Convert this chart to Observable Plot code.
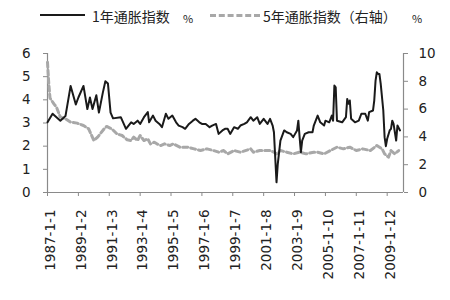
<!DOCTYPE html>
<html>
<head>
<meta charset="utf-8">
<script src="https://cdn.jsdelivr.net/npm/d3@7"></script>
<script src="https://cdn.jsdelivr.net/npm/@observablehq/plot@0.6"></script>
<style>
  html, body { margin: 0; padding: 0; background: #fff; }
  #wrap { width: 450px; height: 300px; position: relative; overflow: hidden; }
  #legend { position: relative; height: 30px; width: 450px; font-family: "Noto Sans CJK SC", sans-serif; font-size: 14px; color: #222; }
  #legend .sw { position: absolute; top: 14px; height: 0; }
  #legend .tx { position: absolute; top: 7px; line-height: 18px; white-space: nowrap; }
  svg { display: block; }
</style>
</head>
<body>
<div id="wrap">
  <div id="legend"></div>
  <div id="chart"></div>
</div>
<script>
// ---------- data ----------
const seriesNames = ["1年通胀指数", "5年通胀指数（右轴）"];
const unitLabel = "%";

const tickLabels = ["1987-1-1", "1989-1-2", "1991-1-3", "1993-1-4", "1995-1-5", "1997-1-6",
  "1999-1-7", "2001-1-8", "2003-1-9", "2005-1-10", "2007-1-11", "2009-1-12"];
const leftTicks = [0, 1, 2, 3, 4, 5, 6];
const rightTicks = [0, 2, 4, 6, 8, 10];

const oneYearDates = ["1987-01","1987-05","1987-11","1988-03","1988-07","1988-11","1989-01","1989-05","1989-08","1989-10","1989-12",
  "1990-03","1990-05","1990-08","1990-10","1990-12","1991-02","1991-04","1991-10","1992-02","1992-06","1992-08","1992-11",
  "1993-01","1993-04","1993-07","1993-08","1993-11","1994-01","1994-04","1994-06","1994-09","1994-11","1995-02","1995-05",
  "1995-07","1995-10","1995-12","1996-03","1996-06","1996-08","1996-11","1997-01","1997-04","1997-07","1997-09","1997-12",
  "1998-02","1998-05","1998-07","1998-09","1998-11","1999-02","1999-05","1999-07","1999-10","1999-12","2000-03","2000-05",
  "2000-08","2000-10","2001-01","2001-04","2001-06","2001-08","2001-09","2001-10","2001-11","2001-12","2002-02","2002-05",
  "2002-07","2002-10","2002-12","2003-03","2003-04","2003-05","2003-06","2003-07","2003-09","2003-12","2004-03","2004-04",
  "2004-07","2004-09","2004-12","2005-01","2005-04","2005-06","2005-07","2005-08","2005-09","2005-10","2006-02","2006-05",
  "2006-06","2006-07","2006-08","2006-09","2006-12","2007-03","2007-05","2007-08","2007-10","2007-11","2008-02","2008-03",
  "2008-04","2008-05","2008-06","2008-07","2008-08","2008-10","2008-11","2008-12","2009-01","2009-03","2009-04","2009-05",
  "2009-06","2009-08","2009-09","2009-11"];
const oneYearValues = [3.03,3.4,3.1,3.3,4.6,3.8,4.1,4.6,3.6,4.1,3.6,
  4.2,3.45,4.3,4.8,4.7,3.45,3.2,3.25,2.75,3.03,2.96,3.1,
  2.96,3.25,3.47,3.03,3.32,3.1,2.96,2.82,3.4,3.18,3.32,3.03,
  2.89,2.82,2.75,2.96,3.1,3.18,3.03,2.96,2.96,2.82,2.89,2.96,
  2.53,2.68,2.75,2.75,2.53,2.82,2.75,2.89,2.96,3.03,3.25,3.1,
  3.25,2.96,3.18,2.96,3.18,2.89,2.6,1.52,0.44,1.24,2.24,2.68,
  2.6,2.53,2.39,2.68,3.1,2.39,1.74,2.24,2.53,2.6,2.6,2.89,
  3.32,3.03,2.89,3.1,3.03,3.32,3.1,4.62,4.54,3.1,3.03,3.25,
  4.04,3.83,3.97,3.18,3.03,3.1,3.4,3.4,3.1,3.47,3.54,3.97,
  4.83,5.19,5.12,5.12,4.69,3.54,2.39,2.0,2.32,2.68,2.75,3.1,
  2.96,2.24,2.89,2.68];

const fiveYearDates = ["1987-01","1987-02","1987-03","1987-06","1987-08","1987-11","1988-03","1988-07","1988-12","1989-05","1989-09",
  "1990-01","1990-04","1990-06","1990-09","1990-11","1991-03","1991-07","1991-11","1992-03","1992-06","1992-08","1992-11",
  "1993-01","1993-04","1993-07","1993-09","1993-12","1994-02","1994-05","1994-08","1994-12","1995-03","1995-08","1996-02",
  "1996-07","1996-12","1997-05","1997-10","1998-02","1998-06","1998-09","1999-02","1999-07","2000-03","2000-05","2000-10",
  "2001-06","2001-09","2001-11","2002-02","2002-07","2002-12","2003-05","2003-10","2004-04","2004-07","2004-12","2005-05",
  "2005-10","2006-03","2006-08","2007-01","2007-06","2007-12","2008-05","2008-09","2008-11","2009-02","2009-04","2009-07","2009-10"];
const fiveYearValues = [9.37,7.8,6.8,6.38,6.14,5.42,5.3,5.06,4.99,4.82,4.58,
  3.74,3.98,4.22,4.58,4.75,4.58,4.22,4.1,3.79,3.74,3.98,3.74,
  4.1,3.74,3.86,3.5,3.62,3.5,3.38,3.5,3.38,3.5,3.26,3.26,
  3.14,3.02,3.14,3.02,2.9,3.02,2.78,3.02,2.9,3.14,2.9,3.02,
  3.02,2.9,2.78,3.02,2.9,2.78,2.9,2.78,2.9,2.9,2.78,3.02,
  3.26,3.14,3.26,3.02,3.14,3.02,3.38,3.14,2.78,2.54,3.02,2.78,3.02];

// ---------- build ----------
const parseMonth = d3.utcParse("%Y-%m");
const k = leftTicks[leftTicks.length - 1] / rightTicks[rightTicks.length - 1];
const one = oneYearDates.map((d, i) => ({date: parseMonth(d), v: oneYearValues[i]}));
const five = fiveYearDates.map((d, i) => ({date: parseMonth(d), v: fiveYearValues[i] * k}));
const tickDates = tickLabels.map(s => new Date(Date.UTC(+s.slice(0, 4), 0, 1)));
const labelByYear = new Map(tickLabels.map(s => [+s.slice(0, 4), s]));
const xDomain = [new Date(Date.UTC(1987, 0, 1)), new Date(Date.UTC(2010, 0, 22))];
const axisColor = "#8a8a8a";
const blackColor = "#1a1a1a";
const grayColor = "#a8a8a8";

const chart = Plot.plot({
  width: 450,
  height: 270,
  marginTop: 23,
  marginBottom: 108,
  marginLeft: 47,
  marginRight: 47,
  style: {fontFamily: "DejaVu Sans, sans-serif", fontSize: "13.5px", color: "#222", background: "#fff"},
  x: {type: "utc", domain: xDomain},
  y: {domain: [leftTicks[0], leftTicks[leftTicks.length - 1]]},
  marks: [
    Plot.ruleY([0], {stroke: axisColor, strokeWidth: 1.2}),
    Plot.ruleX([xDomain[0]], {y1: 0, y2: 6, stroke: axisColor, strokeWidth: 1.2}),
    Plot.ruleX([xDomain[1]], {y1: 0, y2: 6, stroke: axisColor, strokeWidth: 1.2}),
    Plot.axisY({anchor: "left", ticks: leftTicks, tickFormat: d => String(d), tickSize: 4, tickPadding: 13,
      stroke: axisColor, label: null, fill: "#222"}),
    Plot.axisY({anchor: "right", ticks: rightTicks.map(v => v * k), tickFormat: d => String(Math.round(d / k)),
      tickSize: 4, tickPadding: 11, stroke: axisColor, label: null, fill: "#222"}),
    Plot.axisX({ticks: tickDates, tickFormat: () => "", tickSize: 4, stroke: axisColor, label: null}),
    Plot.axisX({ticks: tickDates, tickFormat: d => labelByYear.get(d.getUTCFullYear()), tickRotate: -90,
      tickSize: 0, tickPadding: 17, dx: 3, label: null, fill: "#222"}),
    Plot.lineY(five, {x: "date", y: "v", stroke: grayColor, strokeWidth: 3, strokeDasharray: "5,3"}),
    Plot.lineY(one, {x: "date", y: "v", stroke: blackColor, strokeWidth: 2})
  ]
});
document.getElementById("chart").appendChild(chart);

// ---------- legend ----------
const legend = document.getElementById("legend");
const items = [
  {name: seriesNames[0], color: blackColor, dash: false, sw: [40, 45], tx: 92, unit: 183},
  {name: seriesNames[1], color: grayColor, dash: true, sw: [210, 50], tx: 263, unit: 412}
];
items.forEach(it => {
  const s = document.createElement("div");
  s.className = "sw";
  s.style.left = it.sw[0] + "px";
  s.style.width = it.sw[1] + "px";
  s.style.borderTop = it.dash ? `3px dashed ${it.color}` : `2px solid ${it.color}`;
  legend.appendChild(s);
  const t = document.createElement("div");
  t.className = "tx";
  t.style.left = it.tx + "px";
  t.textContent = it.name;
  legend.appendChild(t);
  const u = document.createElement("div");
  u.className = "tx";
  u.style.left = it.unit + "px";
  u.style.fontSize = "11px";
  u.style.top = "9px";
  u.textContent = unitLabel;
  legend.appendChild(u);
});
</script>
</body>
</html>
